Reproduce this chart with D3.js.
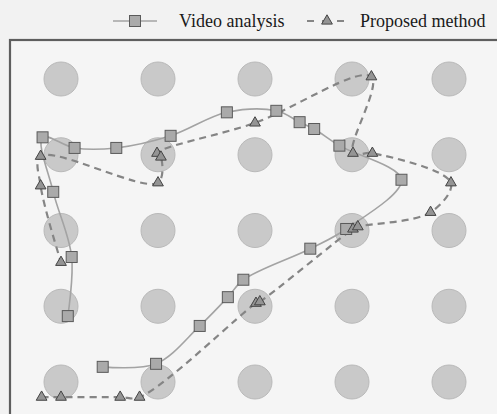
<!DOCTYPE html>
<html>
<head>
<meta charset="utf-8">
<script src="https://cdn.jsdelivr.net/npm/d3@7"></script>
<style>
  html, body { margin: 0; padding: 0; background: #f2f2f2; }
  svg { display: block; }
</style>
</head>
<body>
<svg id="chart" width="497" height="414"></svg>
<script>
// Reference positions (grid units): 5 x 5 layout of circular targets
const gridCols = [0, 1, 2, 3, 4];
const gridRows = [0, 1, 2, 3, 4];

// Trajectory estimated by video analysis
const videoX = [0.07, 0.11, -0.08, -0.19, 0.14, 0.57, 1.13, 1.71, 2.22, 2.46, 2.61, 2.87, 3.51, 2.94, 2.57, 1.88, 1.72, 1.43, 0.98, 0.43];
const videoY = [0.87, 1.65, 2.51, 3.23, 3.09, 3.09, 3.25, 3.56, 3.58, 3.43, 3.34, 3.12, 2.67, 2.02, 1.76, 1.35, 1.12, 0.74, 0.24, 0.20];

// Trajectory estimated by the proposed method
const propX = [-0.20, 0.00, 0.61, 0.81, 2.01, 2.05, 3.01, 3.06, 3.81, 4.02, 3.21, 3.01, 3.20, 2.00, 0.99, 1.03, 1.00, -0.21, -0.21, 0.00];
const propY = [-0.20, -0.20, -0.20, -0.20, 1.04, 1.06, 2.02, 2.05, 2.24, 2.63, 3.02, 3.02, 4.03, 3.42, 3.02, 2.97, 2.63, 2.98, 2.59, 1.58];

const seriesNames = ["Video analysis", "Proposed method"];

const svg = d3.select("#chart");

const x = d3.scaleLinear().domain([0, 4]).range([61, 449]);
const y = d3.scaleLinear().domain([0, 4]).range([382, 79]);

// Plot frame (open on the right and bottom edges of the page)
svg.append("rect")
  .attr("x", 10).attr("y", 40)
  .attr("width", 520).attr("height", 420)
  .attr("fill", "#f5f5f5")
  .attr("stroke", "#5e5e5e")
  .attr("stroke-width", 2.2);

// Targets
const cells = [];
gridRows.forEach(r => gridCols.forEach(c => cells.push({c, r})));
svg.append("g").selectAll("circle")
  .data(cells).join("circle")
  .attr("cx", d => x(d.c))
  .attr("cy", d => y(d.r))
  .attr("r", 17)
  .attr("fill", "#c9c9c9")
  .attr("stroke", "#b9b9b9")
  .attr("stroke-width", 1);

const videoPts = videoX.map((v, i) => [v, videoY[i]]);
const propPts = propX.map((v, i) => [v, propY[i]]);

const line = d3.line()
  .x(d => x(d[0])).y(d => y(d[1]))
  .curve(d3.curveCatmullRom.alpha(0.5));

svg.append("path")
  .attr("d", line(videoPts))
  .attr("fill", "none")
  .attr("stroke", "#a3a3a3")
  .attr("stroke-width", 1.6);

svg.append("path")
  .attr("d", line(propPts))
  .attr("fill", "none")
  .attr("stroke", "#858585")
  .attr("stroke-width", 2.2)
  .attr("stroke-dasharray", "7,5");

const sq = 11;
function drawSquare(g, cx, cy) {
  g.append("rect")
    .attr("x", cx - sq / 2).attr("y", cy - sq / 2)
    .attr("width", sq).attr("height", sq)
    .attr("fill", "#aaaaaa")
    .attr("stroke", "#5a5a5a")
    .attr("stroke-width", 1);
}
const tri = d3.symbol().type(d3.symbolTriangle).size(50);
function drawTriangle(g, cx, cy) {
  g.append("path")
    .attr("d", tri())
    .attr("transform", `translate(${cx},${cy})`)
    .attr("fill", "#949494")
    .attr("stroke", "#444")
    .attr("stroke-width", 1);
}

const gSq = svg.append("g");
videoPts.forEach(p => drawSquare(gSq, x(p[0]), y(p[1])));
const gTri = svg.append("g");
propPts.forEach(p => drawTriangle(gTri, x(p[0]), y(p[1])));

// Legend
const lg = svg.append("g");
const ly = 21;
lg.append("line").attr("x1", 113).attr("x2", 157).attr("y1", ly).attr("y2", ly)
  .attr("stroke", "#a3a3a3").attr("stroke-width", 1.6);
drawSquare(lg, 135, ly);
lg.append("text").attr("x", 179).attr("y", ly + 6)
  .attr("font-family", "Liberation Serif, Times New Roman, serif")
  .attr("font-size", 18).attr("fill", "#1a1a1a")
  .text(seriesNames[0]);

lg.append("line").attr("x1", 307).attr("x2", 347).attr("y1", ly).attr("y2", ly)
  .attr("stroke", "#858585").attr("stroke-width", 2).attr("stroke-dasharray", "7,8");
drawTriangle(lg, 327, ly);
lg.append("text").attr("x", 360).attr("y", ly + 6)
  .attr("font-family", "Liberation Serif, Times New Roman, serif")
  .attr("font-size", 18).attr("fill", "#1a1a1a")
  .text(seriesNames[1]);
</script>
</body>
</html>
